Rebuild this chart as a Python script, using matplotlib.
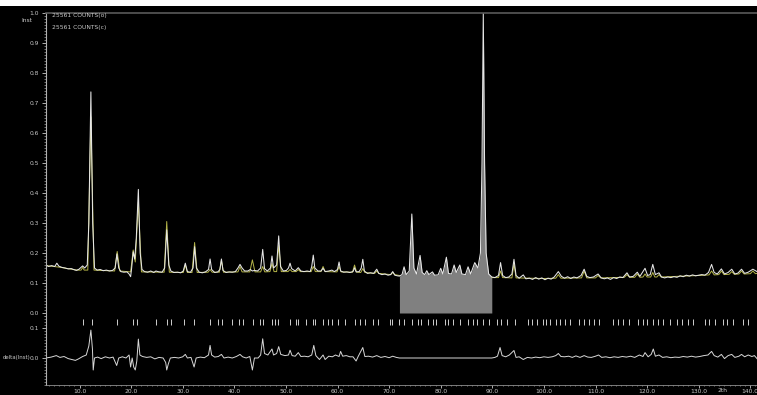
import numpy as np
import matplotlib.pyplot as plt
from matplotlib.ticker import MultipleLocator, FormatStrFormatter
from matplotlib.transforms import blended_transform_factory

# Observed profile (2theta, normalised intensity)
obs_tth = [3.5, 4.0, 4.6, 5.2, 5.6, 6.0, 6.6, 7.2, 7.8, 8.4, 9.0, 9.4, 9.9, 10.6, 11.0,
           11.5, 11.8, 12.2, 12.55, 12.9, 13.4, 14.0, 14.6, 15.2, 15.8, 16.4, 16.9, 17.25,
           17.6, 18.0, 18.6, 19.2, 19.6, 19.9, 20.1, 20.4, 20.7, 21.0, 21.4, 21.75, 22.1,
           22.6, 23.2, 23.8, 24.4, 24.8, 25.4, 26.0, 26.5, 26.9, 27.3, 27.7, 28.3, 29.0,
           29.6, 30.1, 30.5, 30.9, 31.5, 32.0, 32.3, 32.65, 33.2, 33.8, 34.4, 35.0, 35.3,
           35.6, 36.2, 36.8, 37.2, 37.5, 37.8, 38.4, 39.0, 39.6, 40.2, 40.7, 41.1, 41.5,
           42.0, 42.6, 43.1, 43.5, 43.9, 44.5, 45.1, 45.5, 45.85, 46.4, 47.0, 47.3, 47.6,
           48.2, 48.6, 48.95, 49.5, 50.1, 50.5, 50.8, 51.1, 51.8, 52.4, 52.9, 53.5, 54.1,
           54.7, 55.0, 55.3, 55.6, 56.2, 56.8, 57.2, 57.6, 58.3, 58.9, 59.4, 60.0, 60.3,
           60.6, 61.2, 61.8, 62.4, 63.0, 63.3, 63.6, 64.2, 64.6, 64.9, 65.2, 65.8, 66.4,
           67.0, 67.6, 68.0, 68.6, 69.2, 69.8, 70.3, 70.7, 71.1, 71.6, 72.0, 72.5, 72.9,
           73.3, 73.9, 74.4, 74.8, 75.3, 76.0, 76.4, 76.9, 77.3, 77.7, 78.4, 78.8, 79.5,
           80.0, 80.4, 81.1, 81.5, 82.1, 82.6, 83.0, 83.7, 84.1, 84.8, 85.3, 85.8, 86.6,
           87.2, 87.7, 88.0, 88.25, 88.5, 88.8, 89.3, 89.9, 90.5, 91.2, 91.6, 92.0, 92.6,
           93.2, 93.8, 94.2, 94.6, 95.2, 96.0, 96.5, 97.2, 97.8, 98.4, 99.0, 99.6, 100.2,
           100.8, 101.4, 102.0, 102.8, 103.4, 104.0, 104.6, 105.2, 105.8, 106.4, 107.2,
           107.8, 108.3, 108.9, 109.6, 110.5, 111.1, 111.7, 112.3, 112.9, 113.5, 114.1,
           114.7, 115.3, 116.1, 116.6, 117.3, 118.1, 118.6, 119.6, 120.1, 120.6, 121.1,
           121.6, 122.3, 122.8, 123.4, 124.0, 124.6, 125.2, 125.8, 126.4, 127.0, 127.6,
           128.2, 128.8, 129.4, 130.0, 130.6, 131.2, 131.9, 132.5, 133.0, 133.6, 134.4,
           135.0, 135.7, 136.4, 137.0, 137.6, 138.3, 138.9, 139.6, 140.5, 141.3]
obs_int = [0.160, 0.155, 0.158, 0.155, 0.166, 0.156, 0.152, 0.150, 0.147, 0.148, 0.144, 0.142,
           0.146, 0.157, 0.150, 0.160, 0.300, 0.737, 0.300, 0.150, 0.143, 0.145, 0.141, 0.143,
           0.140, 0.142, 0.150, 0.197, 0.150, 0.138, 0.136, 0.137, 0.130, 0.121, 0.150, 0.204,
           0.180, 0.250, 0.412, 0.200, 0.145, 0.138, 0.136, 0.140, 0.135, 0.140, 0.137, 0.136,
           0.150, 0.277, 0.160, 0.140, 0.135, 0.136, 0.134, 0.140, 0.166, 0.138, 0.136, 0.150,
           0.221, 0.150, 0.136, 0.134, 0.137, 0.145, 0.180, 0.145, 0.135, 0.137, 0.145, 0.180,
           0.142, 0.135, 0.137, 0.136, 0.138, 0.150, 0.162, 0.150, 0.140, 0.140, 0.145, 0.140,
           0.142, 0.140, 0.150, 0.212, 0.148, 0.140, 0.150, 0.190, 0.150, 0.160, 0.257, 0.155,
           0.140, 0.142, 0.150, 0.166, 0.148, 0.140, 0.151, 0.140, 0.138, 0.140, 0.138, 0.155,
           0.193, 0.150, 0.140, 0.140, 0.149, 0.138, 0.140, 0.143, 0.138, 0.145, 0.170, 0.140,
           0.136, 0.137, 0.135, 0.138, 0.151, 0.137, 0.138, 0.150, 0.179, 0.140, 0.132, 0.134,
           0.132, 0.146, 0.132, 0.128, 0.130, 0.126, 0.128, 0.138, 0.126, 0.124, 0.123, 0.128,
           0.154, 0.128, 0.140, 0.330, 0.150, 0.130, 0.192, 0.135, 0.128, 0.141, 0.128, 0.137,
           0.126, 0.127, 0.149, 0.130, 0.186, 0.132, 0.130, 0.160, 0.135, 0.160, 0.130, 0.128,
           0.154, 0.130, 0.168, 0.150, 0.200, 0.500, 1.000, 0.500, 0.200, 0.130, 0.120, 0.118,
           0.125, 0.168, 0.125, 0.118, 0.120, 0.130, 0.179, 0.125, 0.116, 0.127, 0.114, 0.116,
           0.112, 0.118, 0.113, 0.117, 0.111, 0.116, 0.113, 0.120, 0.138, 0.122, 0.116, 0.121,
           0.115, 0.120, 0.117, 0.125, 0.146, 0.122, 0.118, 0.120, 0.130, 0.117, 0.114, 0.117,
           0.112, 0.118, 0.115, 0.120, 0.118, 0.134, 0.120, 0.122, 0.136, 0.122, 0.149, 0.125,
           0.128, 0.162, 0.128, 0.134, 0.120, 0.117, 0.120, 0.118, 0.121, 0.119, 0.124, 0.121,
           0.126, 0.123, 0.127, 0.124, 0.126, 0.128, 0.126, 0.135, 0.162, 0.135, 0.130, 0.147,
           0.130, 0.135, 0.146, 0.130, 0.133, 0.146, 0.132, 0.136, 0.146, 0.138]

# Calculated profile (the excluded range is left out with NaN)
calc_tth = [3.5, 6.0, 9.5, 10.3, 10.6, 10.9, 11.6, 12.2, 12.8, 14.0, 16.8, 17.3, 17.8,
            19.9, 20.4, 20.8, 21.4, 22.0, 26.4, 26.9, 27.4, 30.1, 30.5, 30.9, 31.8,
            32.3, 32.8, 34.9, 35.3, 35.7, 37.1, 37.5, 37.9, 40.7, 41.1, 41.5, 43.0, 43.5,
            44.0, 45.1, 45.5, 45.9, 46.9, 47.3, 47.7, 48.2, 48.6, 49.1, 50.4, 50.8, 51.2,
            52.0, 52.4, 52.8, 54.9, 55.3, 55.7, 56.8, 57.2, 57.6, 59.9, 60.3, 60.7, 62.9,
            63.3, 63.7, 64.5, 64.9, 65.3, 67.2, 67.6, 68.0, 70.3, 70.7, 71.1, 72.0,
            80.0,
            89.9, 91.2, 91.6, 92.0, 93.8, 94.2, 94.6, 100.0, 102.3, 102.8, 103.3, 107.3,
            107.8, 108.3, 110.0, 110.5, 111.0, 115.6, 116.1, 116.6, 117.6, 118.1, 118.6,
            119.2, 119.6, 120.0, 120.7, 121.1, 121.5, 121.9, 122.3, 122.7, 130.0, 132.0,
            132.5, 133.0, 133.9, 134.4, 134.9, 135.9, 136.4, 136.9, 137.8, 138.3, 138.8,
            140.0, 140.5, 141.0, 141.3]
calc_int = [0.158, 0.153, 0.143, 0.143, 0.152, 0.143, 0.143, 0.654, 0.143, 0.142, 0.140,
            0.205, 0.140, 0.137, 0.210, 0.170, 0.370, 0.137, 0.136, 0.305, 0.136, 0.135,
            0.160, 0.135, 0.135, 0.235, 0.135, 0.136, 0.145, 0.136, 0.136, 0.175, 0.136,
            0.137, 0.155, 0.137, 0.137, 0.177, 0.137, 0.137, 0.155, 0.137, 0.138, 0.165,
            0.138, 0.138, 0.225, 0.138, 0.138, 0.145, 0.138, 0.138, 0.145, 0.138, 0.138,
            0.155, 0.138, 0.138, 0.155, 0.138, 0.137, 0.155, 0.137, 0.136, 0.160, 0.136,
            0.135, 0.148, 0.135, 0.132, 0.140, 0.132, 0.128, 0.135, 0.128, 0.125,
            np.nan,
            0.118, 0.118, 0.140, 0.118, 0.117, 0.165, 0.117, 0.115, 0.116, 0.128, 0.116,
            0.117, 0.140, 0.117, 0.117, 0.125, 0.117, 0.119, 0.128, 0.119, 0.119, 0.130,
            0.119, 0.120, 0.130, 0.120, 0.120, 0.135, 0.120, 0.120, 0.128, 0.120, 0.125,
            0.127, 0.140, 0.127, 0.128, 0.140, 0.128, 0.129, 0.138, 0.129, 0.130, 0.140,
            0.130, 0.131, 0.140, 0.131, 0.132]

# Difference curve obs - calc
diff_tth = [3.5, 4.5, 5.5, 6.2, 7.0, 7.8, 8.5, 9.2, 9.8, 10.6, 11.3, 11.8, 12.2, 12.5, 12.65,
            12.9, 13.5, 14.2, 15.0, 15.8, 16.5, 17.2, 17.6, 18.3, 19.0, 19.6, 19.9, 20.2,
            20.5, 20.8, 21.1, 21.4, 21.7, 22.2, 23.0, 23.8, 24.6, 25.4, 26.2, 26.7, 26.9,
            27.2, 27.6, 28.4, 29.2, 30.0, 30.5, 30.9, 31.6, 32.2, 32.6, 33.4, 34.2, 35.0,
            35.3, 35.6, 36.2, 36.9, 37.5, 38.0, 38.8, 39.6, 40.4, 41.1, 41.6, 42.3, 43.0,
            43.5, 43.9, 44.6, 45.1, 45.5, 45.85, 46.5, 47.3, 47.6, 48.2, 48.6, 49.0, 49.8,
            50.5, 50.8, 51.2, 51.8, 52.4, 52.9, 53.6, 54.3, 55.0, 55.4, 55.8, 56.5, 57.2,
            57.6, 58.3, 59.0, 59.6, 60.3, 60.6, 61.0, 61.7, 62.4, 63.0, 63.6, 64.0, 64.9,
            65.3, 66.0, 66.8, 67.6, 68.4, 69.2, 70.0, 70.7, 71.4, 72.0, 89.9, 90.5, 91.0,
            91.5, 91.9, 92.6, 93.3, 94.2, 94.6, 95.2, 96.0, 96.8, 97.6, 98.4, 99.2, 100.0,
            100.8, 101.6, 102.3, 102.8, 103.3, 104.0, 104.8, 105.5, 106.2, 107.0, 107.8,
            108.5, 109.2, 110.0, 110.6, 111.2, 112.0, 112.8, 113.6, 114.4, 115.2, 116.0,
            116.8, 117.6, 118.5, 119.2, 119.6, 120.2, 120.8, 121.2, 121.6, 122.3, 123.0,
            123.8, 124.6, 125.4, 126.2, 127.0, 127.8, 128.6, 129.4, 130.2, 131.0, 131.8,
            132.5, 133.0, 133.7, 134.4, 135.0, 135.7, 136.4, 137.0, 137.8, 138.3, 138.9,
            139.6, 140.3, 140.8, 141.3]
diff_int = [0.000, 0.003, 0.008, 0.002, 0.005, -0.002, -0.005, -0.008, -0.003, 0.005, 0.010,
            0.040, 0.093, 0.030, -0.040, 0.000, 0.003, -0.002, 0.004, 0.000, 0.003, -0.025,
            0.000, 0.004, 0.000, 0.010, -0.030, 0.000, -0.030, -0.040, -0.010, 0.063, 0.010,
            0.005, 0.002, 0.004, -0.003, 0.002, 0.000, -0.015, -0.040, -0.020, 0.000, 0.002,
            0.000, 0.004, 0.012, 0.000, 0.002, -0.030, 0.000, 0.003, 0.001, 0.010, 0.042,
            0.010, 0.003, 0.005, 0.012, 0.000, 0.003, 0.000, 0.005, 0.012, 0.004, 0.000,
            0.005, -0.040, 0.000, 0.000, 0.010, 0.064, 0.015, 0.010, 0.030, 0.010, 0.015,
            0.038, 0.012, 0.008, 0.010, 0.026, 0.008, 0.006, 0.018, 0.005, 0.006, 0.004,
            0.010, 0.042, 0.008, -0.005, 0.010, -0.005, 0.006, 0.004, 0.010, 0.005, 0.022,
            0.006, 0.008, 0.004, 0.004, -0.010, 0.005, 0.035, 0.005, 0.006, 0.003, 0.008,
            0.002, 0.005, 0.001, 0.006, 0.002, 0.000, 0.000, 0.002, 0.006, 0.035, 0.008,
            0.004, 0.010, 0.025, 0.002, 0.004, -0.005, 0.002, 0.000, 0.003, 0.001, 0.004,
            0.002, 0.004, 0.008, 0.015, 0.005, 0.004, 0.006, 0.002, 0.007, 0.002, 0.008,
            0.003, 0.002, 0.006, 0.010, 0.002, 0.004, 0.001, 0.004, 0.002, 0.005, 0.003,
            0.006, 0.002, 0.010, 0.005, 0.018, 0.004, 0.012, 0.030, 0.006, 0.010, 0.002,
            0.004, 0.001, 0.003, 0.002, 0.005, 0.003, 0.006, 0.003, 0.005, 0.008, 0.010,
            0.022, 0.008, 0.003, 0.012, -0.002, 0.008, 0.012, 0.002, 0.006, 0.012, 0.004,
            0.010, 0.005, 0.008, -0.002]

# Reflection positions (2theta)
refl_tth = [10.60, 12.34, 17.31, 20.41, 21.18, 24.75, 27.00, 27.65, 30.29, 32.23, 35.27,
            36.88, 37.54, 39.59, 40.95, 41.72, 43.55, 44.96, 45.48, 47.23, 47.87, 48.51,
            50.78, 51.94, 52.38, 53.88, 55.17, 55.62, 57.11, 58.20, 58.86, 60.14, 61.43,
            63.37, 64.34, 65.31, 66.80, 67.77, 70.16, 70.48, 71.96, 72.87, 74.36, 75.64,
            76.10, 77.46, 78.43, 79.01, 80.81, 81.45, 82.42, 83.72, 85.33, 86.30, 86.96,
            88.24, 89.34, 90.83, 91.61, 92.89, 94.38, 96.96, 97.62, 98.59, 99.75, 100.39,
            101.16, 102.33, 103.10, 104.07, 105.04, 106.84, 107.81, 108.78, 109.75, 110.72,
            113.43, 114.40, 115.25, 116.53, 118.28, 119.24, 119.90, 121.18, 122.15, 123.12,
            124.42, 125.72, 126.69, 127.96, 128.82, 131.20, 132.03, 133.14, 134.63, 135.41,
            136.69, 138.62, 139.59]

excl_lo, excl_hi = 72.0, 89.9
tth_min, tth_max = 3.5, 141.3

obs_tth = np.array(obs_tth)
obs_int = np.array(obs_int)

fg = '#c8c8c8'
plt.rcParams['font.size'] = 4.3

fig = plt.figure(figsize=(7.57, 3.95), dpi=100, facecolor='black')
fig.patches.append(plt.Rectangle((0, 1 - 6 / 395), 1, 6 / 395, transform=fig.transFigure,
                                 facecolor='white', edgecolor='none'))

ax = fig.add_axes([46 / 757, 1 - 316 / 395, 1 - 46 / 757, 303 / 395], facecolor='black')
ax2 = fig.add_axes([46 / 757, 1 - 385 / 395, 1 - 46 / 757, 69 / 395], facecolor='black',
                   sharex=ax)

# excluded region shown filled
in_excl = (obs_tth >= excl_lo) & (obs_tth <= excl_hi)
ax.fill_between(obs_tth, 0, obs_int, where=in_excl, color='#808080', lw=0)

# calc underneath, observed on top
ax.plot(calc_tth, calc_int, color='#b4b448', lw=0.7)
ax.plot(obs_tth, obs_int, color='#e6e6e6', lw=0.75)

ax.set_xlim(tth_min, tth_max)
ax.set_ylim(-0.01, 1.0)

ax2.plot(diff_tth, diff_int, color='#d8d8d8', lw=0.7)
ax2.vlines(refl_tth, 0.11, 0.13, color='#d0d0d0', lw=0.7)
ax2.set_ylim(-0.09, 0.14)

for a in (ax, ax2):
    for s in a.spines.values():
        s.set_visible(False)
    a.spines['left'].set_visible(True)
    a.spines['left'].set_color('#b0b0b0')
    a.spines['left'].set_linewidth(0.8)
    a.yaxis.set_major_locator(MultipleLocator(0.1))
    a.yaxis.set_minor_locator(MultipleLocator(0.01))
    a.yaxis.set_major_formatter(FormatStrFormatter('%.1f'))
    a.tick_params(axis='y', which='major', colors=fg, length=3, width=0.6, pad=2)
    a.tick_params(axis='y', which='minor', colors='#a0a0a0', length=1.2, width=0.5)

ax.spines['top'].set_visible(True)
ax.spines['top'].set_color('#5a5a5a')
ax.spines['top'].set_linewidth(1.2)
ax.tick_params(axis='x', which='both', bottom=False, labelbottom=False)
ax2.set_yticks([0.0, 0.1])

ax2.spines['bottom'].set_visible(True)
ax2.spines['bottom'].set_color('#909090')
ax2.spines['bottom'].set_linewidth(0.6)
ax2.xaxis.set_major_locator(MultipleLocator(10))
ax2.xaxis.set_minor_locator(MultipleLocator(1))
ax2.xaxis.set_major_formatter(FormatStrFormatter('%.1f'))
ax2.tick_params(axis='x', which='major', colors=fg, length=2, width=0.6, pad=1)
ax2.tick_params(axis='x', which='minor', colors='#a0a0a0', length=1.0, width=0.5)

# axis captions as in the refinement program
trans = blended_transform_factory(ax2.transData, ax2.transAxes)
ax2.text(134.6, -0.045, '2th', transform=trans, color=fg, ha='center', va='top')
fig.text(27 / 757, 1 - 20 / 395, 'Inst', color=fg, ha='center', va='center')
fig.text(3 / 757, 1 - 358 / 395, 'delta(Inst)', color=fg, ha='left', va='center',
         fontsize=3.9)

ax.text(0.009, 0.992, '25561 COUNTS(o)', transform=ax.transAxes, color=fg, va='center')
ax.text(0.009, 0.953, '25561 COUNTS(c)', transform=ax.transAxes, color=fg, va='center')

fig.savefig('out.png', dpi=100, facecolor='black')
